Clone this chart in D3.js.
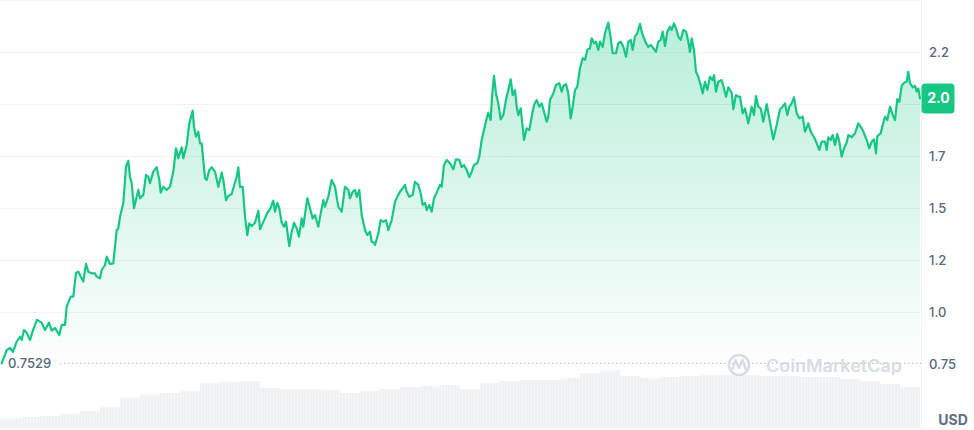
<!DOCTYPE html>
<html><head><meta charset="utf-8">
<script src="https://cdn.jsdelivr.net/npm/d3@7"></script>
<style>body{margin:0;background:#fff}svg{display:block;font-family:Inter,"Noto Sans",sans-serif}</style>
</head><body><svg id="c" width="974" height="430"></svg>
<script>
// time in days since start of window
const days=[0.17,0.67,1.0,1.3,1.67,2.0,2.17,2.4,2.67,3.0,3.3,3.7,4.17,4.5,4.9,5.17,5.5,5.93,6.17,6.5,6.67,7.07,7.33,7.6,7.83,8.0,8.33,8.6,8.83,9.17,9.5,9.67,10.0,10.17,10.5,10.67,11.0,11.33,11.67,11.83,12.0,12.33,12.6,12.83,13.0,13.17,13.4,13.67,13.83,14.0,14.33,14.6,14.83,15.0,15.33,15.67,15.93,16.07,16.33,16.67,17.0,
17.33,17.6,17.83,18.17,18.33,18.67,18.93,19.27,19.4,19.6,19.83,20.0,20.17,20.5,20.67,20.93,21.17,21.5,21.83,22.17,22.33,22.6,22.83,23.17,23.33,23.67,23.83,24.0,24.27,24.5,24.73,24.93,25.17,25.5,25.67,25.83,26.0,26.27,26.5,26.73,27.0,27.33,27.5,27.73,27.93,28.17,28.4,28.6,28.93,29.17,29.4,29.67,29.9,30.17,30.33,30.73,31.0,31.27,31.5,31.83,32.07,32.33,32.5,32.83,33.17,33.5,33.83,34.17,34.5,34.83,35.0,35.27,35.5,35.67,35.93,36.17,36.5,36.73,37.0,37.17,37.4,37.5,37.83,38.07,38.33,38.6,38.83,39.17,39.5,39.83,
40.0,40.27,40.5,40.67,40.93,41.27,41.5,41.83,42.07,42.27,42.5,42.67,42.93,43.17,43.4,43.67,44.0,44.17,44.4,44.67,45.0,45.33,45.6,45.93,46.17,46.4,46.67,46.93,47.17,47.4,47.73,47.93,48.17,48.4,48.67,48.83,49.07,49.2,49.4,49.6,49.83,50.07,50.33,50.6,50.83,51.07,51.27,51.5,51.67,51.83,52.07,52.4,52.67,52.93,53.17,53.4,53.67,53.93,54.17,54.4,54.67,54.83,55.0,55.33,55.6,55.93,56.17,56.33,56.6,56.83,
57.07,57.27,57.5,57.73,58.0,58.27,58.5,58.73,59.0,59.17,59.4,59.6,59.83,60.0,60.27,60.5,60.83,61.07,61.27,61.6,61.83,62.07,62.33,62.6,62.83,63.07,63.27,63.5,63.73,64.0,64.17,64.4,64.6,64.83,65.07,65.33,65.6,65.83,66.07,66.27,66.5,66.73,67.0,67.17,67.4,67.6,67.83,68.07,68.33,68.6,68.83,69.0,69.17,69.4,69.6,69.83,70.07,70.27,70.5,70.73,71.0,71.27,71.4,71.6,71.83,72.17,72.4,72.6,72.83,73.17,73.33,73.6,73.83,
74.0,74.27,74.5,74.83,75.17,75.4,75.6,75.83,76.07,76.33,76.67,76.93,77.33,77.67,78.0,78.27,78.5,78.73,78.93,79.17,79.4,79.67,79.93,80.27,80.5,80.83,81.07,81.4,81.67,81.93,82.17,82.5,82.67,82.83,83.07,83.27,83.5,83.73,83.93,84.17,84.4,84.67,84.83,85.17,85.5,85.83,86.17,86.4,86.67,86.93,87.17,87.4,87.6,87.73,88.07,88.27,88.5,88.73,89.0,89.27,89.5,89.73,89.93,90.17,90.4,90.67,90.83,91.0,91.27,91.5,91.67,91.83,92.0];

// price in USD
const prices=[0.753,0.817,0.827,0.808,0.857,0.881,0.865,0.913,0.901,0.865,0.913,0.962,0.949,0.913,0.949,0.910,0.923,0.889,0.938,0.938,1.026,1.074,1.074,1.188,1.194,1.178,1.146,1.231,1.194,1.186,1.186,1.170,1.162,1.202,1.226,1.266,1.231,1.234,1.394,1.402,1.458,1.523,1.699,1.727,1.650,1.619,1.499,1.554,1.587,1.547,1.563,1.659,1.650,1.619,1.675,1.696,1.635,1.574,1.602,1.587,1.602,
1.675,1.787,1.739,1.792,1.739,1.803,1.907,1.968,1.891,1.843,1.867,1.811,1.811,1.643,1.635,1.683,1.696,1.675,1.602,1.670,1.635,1.538,1.558,1.567,1.595,1.650,1.696,1.602,1.602,1.458,1.370,1.426,1.413,1.429,1.458,1.487,1.398,1.426,1.450,1.477,1.494,1.535,1.482,1.525,1.499,1.429,1.410,1.434,1.317,1.386,1.429,1.402,1.362,1.450,1.410,1.547,1.499,1.450,1.466,1.410,1.474,1.538,1.506,1.554,1.635,1.602,1.506,1.482,1.602,1.587,1.547,1.578,1.587,1.554,1.587,1.466,1.394,1.370,1.386,1.338,1.333,1.322,1.378,1.442,1.434,1.442,1.394,1.442,1.530,1.563,
1.578,1.595,1.611,1.578,1.554,1.563,1.626,1.611,1.571,1.514,1.525,1.490,1.514,1.482,1.547,1.574,1.611,1.602,1.707,1.731,1.715,1.686,1.734,1.731,1.696,1.707,1.683,1.648,1.675,1.707,1.715,1.747,1.827,1.875,1.931,1.958,1.923,2.035,2.135,2.051,2.003,1.926,1.947,2.019,2.067,2.119,2.043,2.067,1.987,1.947,1.979,1.827,1.883,1.875,1.939,1.995,2.019,1.987,2.003,1.963,1.915,1.939,2.019,2.051,2.091,2.100,2.059,2.087,2.096,2.051,
1.931,1.987,2.067,2.083,2.172,2.220,2.212,2.260,2.268,2.316,2.292,2.300,2.260,2.300,2.275,2.340,2.391,2.316,2.244,2.244,2.292,2.300,2.275,2.227,2.300,2.308,2.260,2.324,2.340,2.385,2.348,2.316,2.292,2.275,2.284,2.268,2.251,2.300,2.308,2.348,2.279,2.348,2.372,2.356,2.388,2.364,2.324,2.308,2.356,2.348,2.300,2.251,2.316,2.260,2.155,2.131,2.091,2.051,2.107,2.067,2.131,2.115,2.139,2.059,2.107,2.115,2.075,2.035,2.080,2.054,1.975,2.043,2.035,
2.035,1.955,1.979,1.907,1.987,1.947,2.038,1.987,1.979,1.915,2.000,1.931,1.830,1.899,1.975,1.987,2.003,1.947,1.987,2.003,2.032,1.955,1.931,1.939,1.867,1.907,1.867,1.840,1.811,1.779,1.819,1.819,1.779,1.840,1.827,1.851,1.803,1.856,1.819,1.747,1.787,1.814,1.851,1.840,1.859,1.907,1.883,1.859,1.827,1.787,1.819,1.830,1.763,1.846,1.859,1.899,1.939,1.923,1.987,1.947,1.923,2.023,2.011,2.087,2.102,2.107,2.155,2.100,2.080,2.087,2.059,2.075,2.027];

// volume bins (2-day bins), millions USD
const volumeBinDays=[0,2,4,6,8,10,12,14,16,18,20,22,24,26,28,30,32,34,36,38,40,42,44,46,48,50,52,54,56,58,60,62,64,66,68,70,72,74,76,78,80,82,84,86,88,90];
const volumes=[20,22,24,28,34,42,60,68,70,74,90,92,94,80,78,78,76,70,74,78,82,84,86,78,90,94,96,96,100,110,116,104,100,102,104,106,106,106,104,104,102,102,98,94,88,82];

const tickValues=[0.75,1.0,1.25,1.5,1.75,2.0,2.25];
const tickLabels=["0.75","1.0","1.2","1.5","1.7","2.0","2.2"];
const minPrice=0.7529, minLabel="0.7529", currentLabel="2.0", currency="USD";

const svg=d3.select("#c");
const right=921;
const x=d3.scaleLinear().domain([0,92]).range([0,920]);
const y=d3.scaleLinear().domain([0.75,2.25]).range([364,52]);
const yv=d3.scaleLinear().domain([0,140]).range([428,358]);

const defs=svg.append("defs");
const g=defs.append("linearGradient").attr("id","gf").attr("gradientUnits","userSpaceOnUse")
  .attr("x1",0).attr("x2",0).attr("y1",0).attr("y2",y(minPrice));
g.append("stop").attr("offset",0).attr("stop-color","#16c784").attr("stop-opacity",0.32);
g.append("stop").attr("offset",1).attr("stop-color","#16c784").attr("stop-opacity",0.01);

// frame lines
svg.append("line").attr("x1",0).attr("x2",right).attr("y1",0.5).attr("y2",0.5).attr("stroke","#eff2f5");
svg.append("line").attr("x1",right+0.5).attr("x2",right+0.5).attr("y1",0).attr("y2",430).attr("stroke","#eff2f5");

// gridlines
svg.append("g").selectAll("line").data(tickValues.filter(t=>t>0.75)).join("line")
  .attr("x1",0).attr("x2",right).attr("y1",d=>Math.round(y(d))+0.5).attr("y2",d=>Math.round(y(d))+0.5)
  .attr("stroke","#eff2f5");

// volume
svg.append("g").selectAll("rect").data(volumes).join("rect")
  .attr("x",(d,i)=>x(volumeBinDays[i])).attr("width",(d,i)=>x(volumeBinDays[i]+2)-x(volumeBinDays[i]))
  .attr("y",d=>yv(d)).attr("height",d=>yv(0)-yv(d)).attr("fill","#eff1f5");
svg.append("g").selectAll("line").data(d3.range(0,921,3)).join("line")
  .attr("x1",d=>d+0.5).attr("x2",d=>d+0.5).attr("y1",358).attr("y2",428)
  .attr("stroke","#fff").attr("stroke-opacity",0.35);

const pts=days.map((d,i)=>[d,prices[i]]);
svg.append("path").datum(pts).attr("fill","url(#gf)")
  .attr("d",d3.area().x(d=>x(d[0])).y0(y(minPrice)).y1(d=>y(d[1])));

// min price dotted line
svg.append("line").attr("x1",60).attr("x2",right).attr("y1",y(minPrice)).attr("y2",y(minPrice))
  .attr("stroke","#a6b0c3").attr("stroke-width",1).attr("stroke-dasharray","1.2,2.8");
svg.append("text").attr("x",8).attr("y",y(minPrice)+4.5).text(minLabel)
  .attr("font-size",13).attr("font-weight",500).attr("fill","#58667e");

svg.append("path").datum(pts).attr("fill","none").attr("stroke","#16c784").attr("stroke-width",2.2)
  .attr("stroke-linejoin","round").attr("stroke-linecap","round")
  .attr("d",d3.line().x(d=>x(d[0])).y(d=>y(d[1])));

// watermark
const wm=svg.append("g").attr("opacity",0.9);
wm.append("circle").attr("cx",739).attr("cy",365).attr("r",10).attr("fill","none").attr("stroke","#d3d9e3").attr("stroke-width",2.6);
wm.append("path").attr("d","M732,370 L735.5,360 L739,368 L742.5,360 L746,370").attr("fill","none").attr("stroke","#d3d9e3").attr("stroke-width",2.4).attr("stroke-linejoin","round");
wm.append("text").attr("x",766).attr("y",372).text("CoinMarketCap").attr("font-size",17).attr("font-weight",600)
  .attr("fill","#d3d9e3").attr("textLength",136).attr("lengthAdjust","spacingAndGlyphs");

// right axis (the label hidden under the current-price badge is not drawn, as in the reference)
const lastY=y(prices[prices.length-1]);
const shownTicks=tickValues.filter(t=>Math.abs(y(t)-lastY)>16);
const ax=svg.append("g").attr("transform",`translate(${right},0)`)
  .call(d3.axisRight(y).tickValues(shownTicks).tickFormat(d=>tickLabels[tickValues.indexOf(d)]).tickSize(0).tickPadding(8));
ax.select(".domain").remove();
ax.selectAll("text").attr("font-size",13).attr("font-weight",500).attr("fill","#58667e").attr("font-family","Inter,sans-serif");

// current price badge
svg.append("rect").attr("x",right+0.5).attr("y",lastY-15).attr("width",33).attr("height",30).attr("rx",4).attr("fill","#16c784");
svg.append("text").attr("x",right+17.5).attr("y",lastY+5).attr("text-anchor","middle").text(currentLabel)
  .attr("font-size",14).attr("font-weight",700).attr("fill","#fff");

svg.append("text").attr("x",953).attr("y",425).attr("text-anchor","middle").text(currency)
  .attr("font-size",14).attr("font-weight",700).attr("fill","#616e85");
</script></body></html>
